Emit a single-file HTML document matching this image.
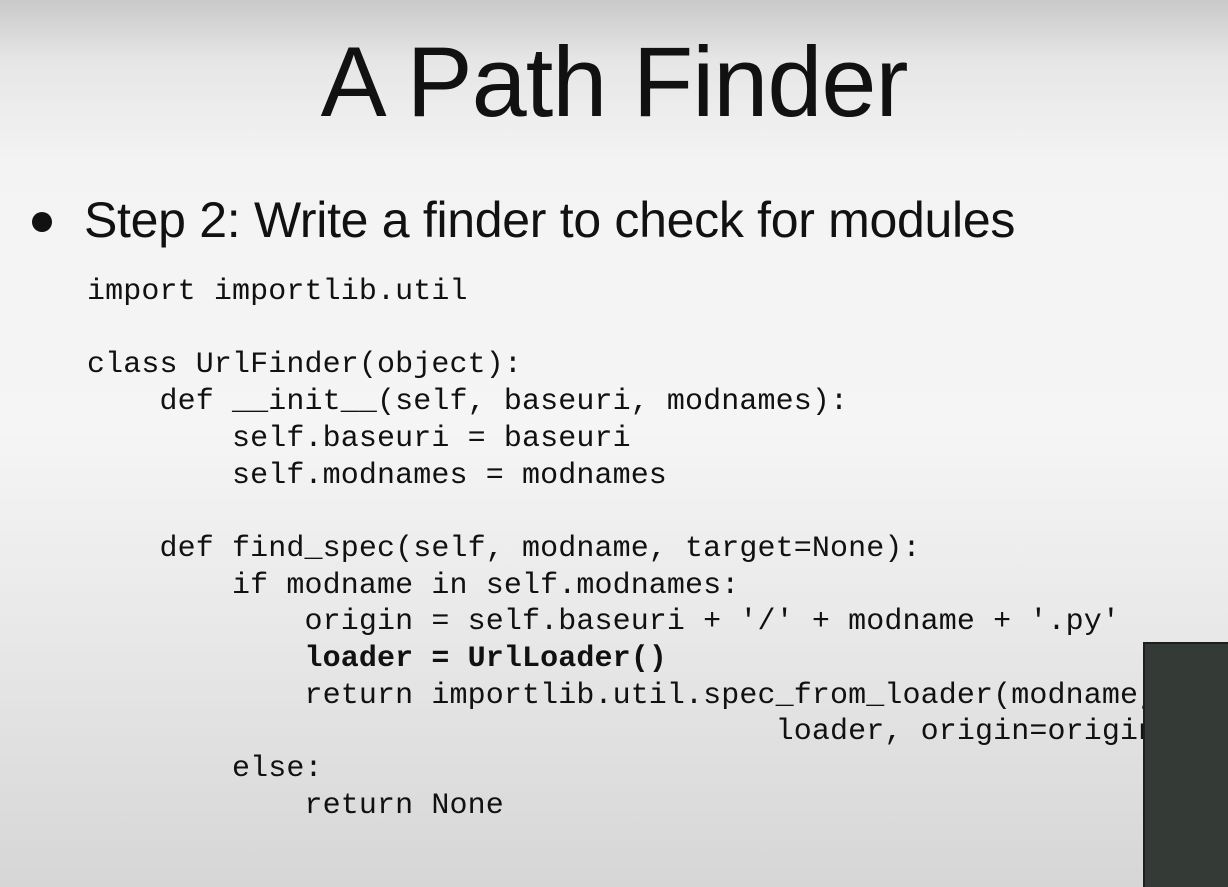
<!DOCTYPE html>
<html><head><meta charset="utf-8"><style>
html,body{margin:0;padding:0}
body{width:1228px;height:887px;overflow:hidden;position:relative;
background:linear-gradient(to bottom,#c9c9c9 0px,#e6e6e6 60px,#f3f3f3 160px,#f5f5f5 430px,#e9e9e9 620px,#d6d6d6 887px);
font-family:"Liberation Sans",sans-serif;color:#111}
.title{position:absolute;left:0;width:1228px;top:24px;text-align:center;font-size:99px;line-height:116px;letter-spacing:-1px}
.bullet{position:absolute;left:32px;top:212px;width:20px;height:20px;border-radius:50%;background:#111}
.step{position:absolute;left:84px;top:190px;font-size:50px;line-height:60px;letter-spacing:-0.3px}
pre{position:absolute;left:87px;top:274px;width:1056px;overflow:hidden;margin:0;font-family:"Liberation Mono",monospace;font-size:30px;line-height:36.7px;letter-spacing:0.12px;color:#111;white-space:pre}
.box{position:absolute;left:1143px;top:642px;width:85px;height:245px;background:#343b37;border-left:2px solid #1c1f1d;border-top:2px solid #1c1f1d;box-sizing:border-box}
</style></head><body>
<div class="title">A Path Finder</div>
<div class="bullet"></div>
<div class="step">Step 2: Write a finder to check for modules</div>
<pre>import importlib.util

class UrlFinder(object):
    def __init__(self, baseuri, modnames):
        self.baseuri = baseuri
        self.modnames = modnames

    def find_spec(self, modname, target=None):
        if modname in self.modnames:
            origin = self.baseuri + '/' + modname + '.py'
            <b>loader = UrlLoader()</b>
            return importlib.util.spec_from_loader(modname,
                                      loader, origin=origin)
        else:
            return None</pre>
<div class="box"></div>
</body></html>
